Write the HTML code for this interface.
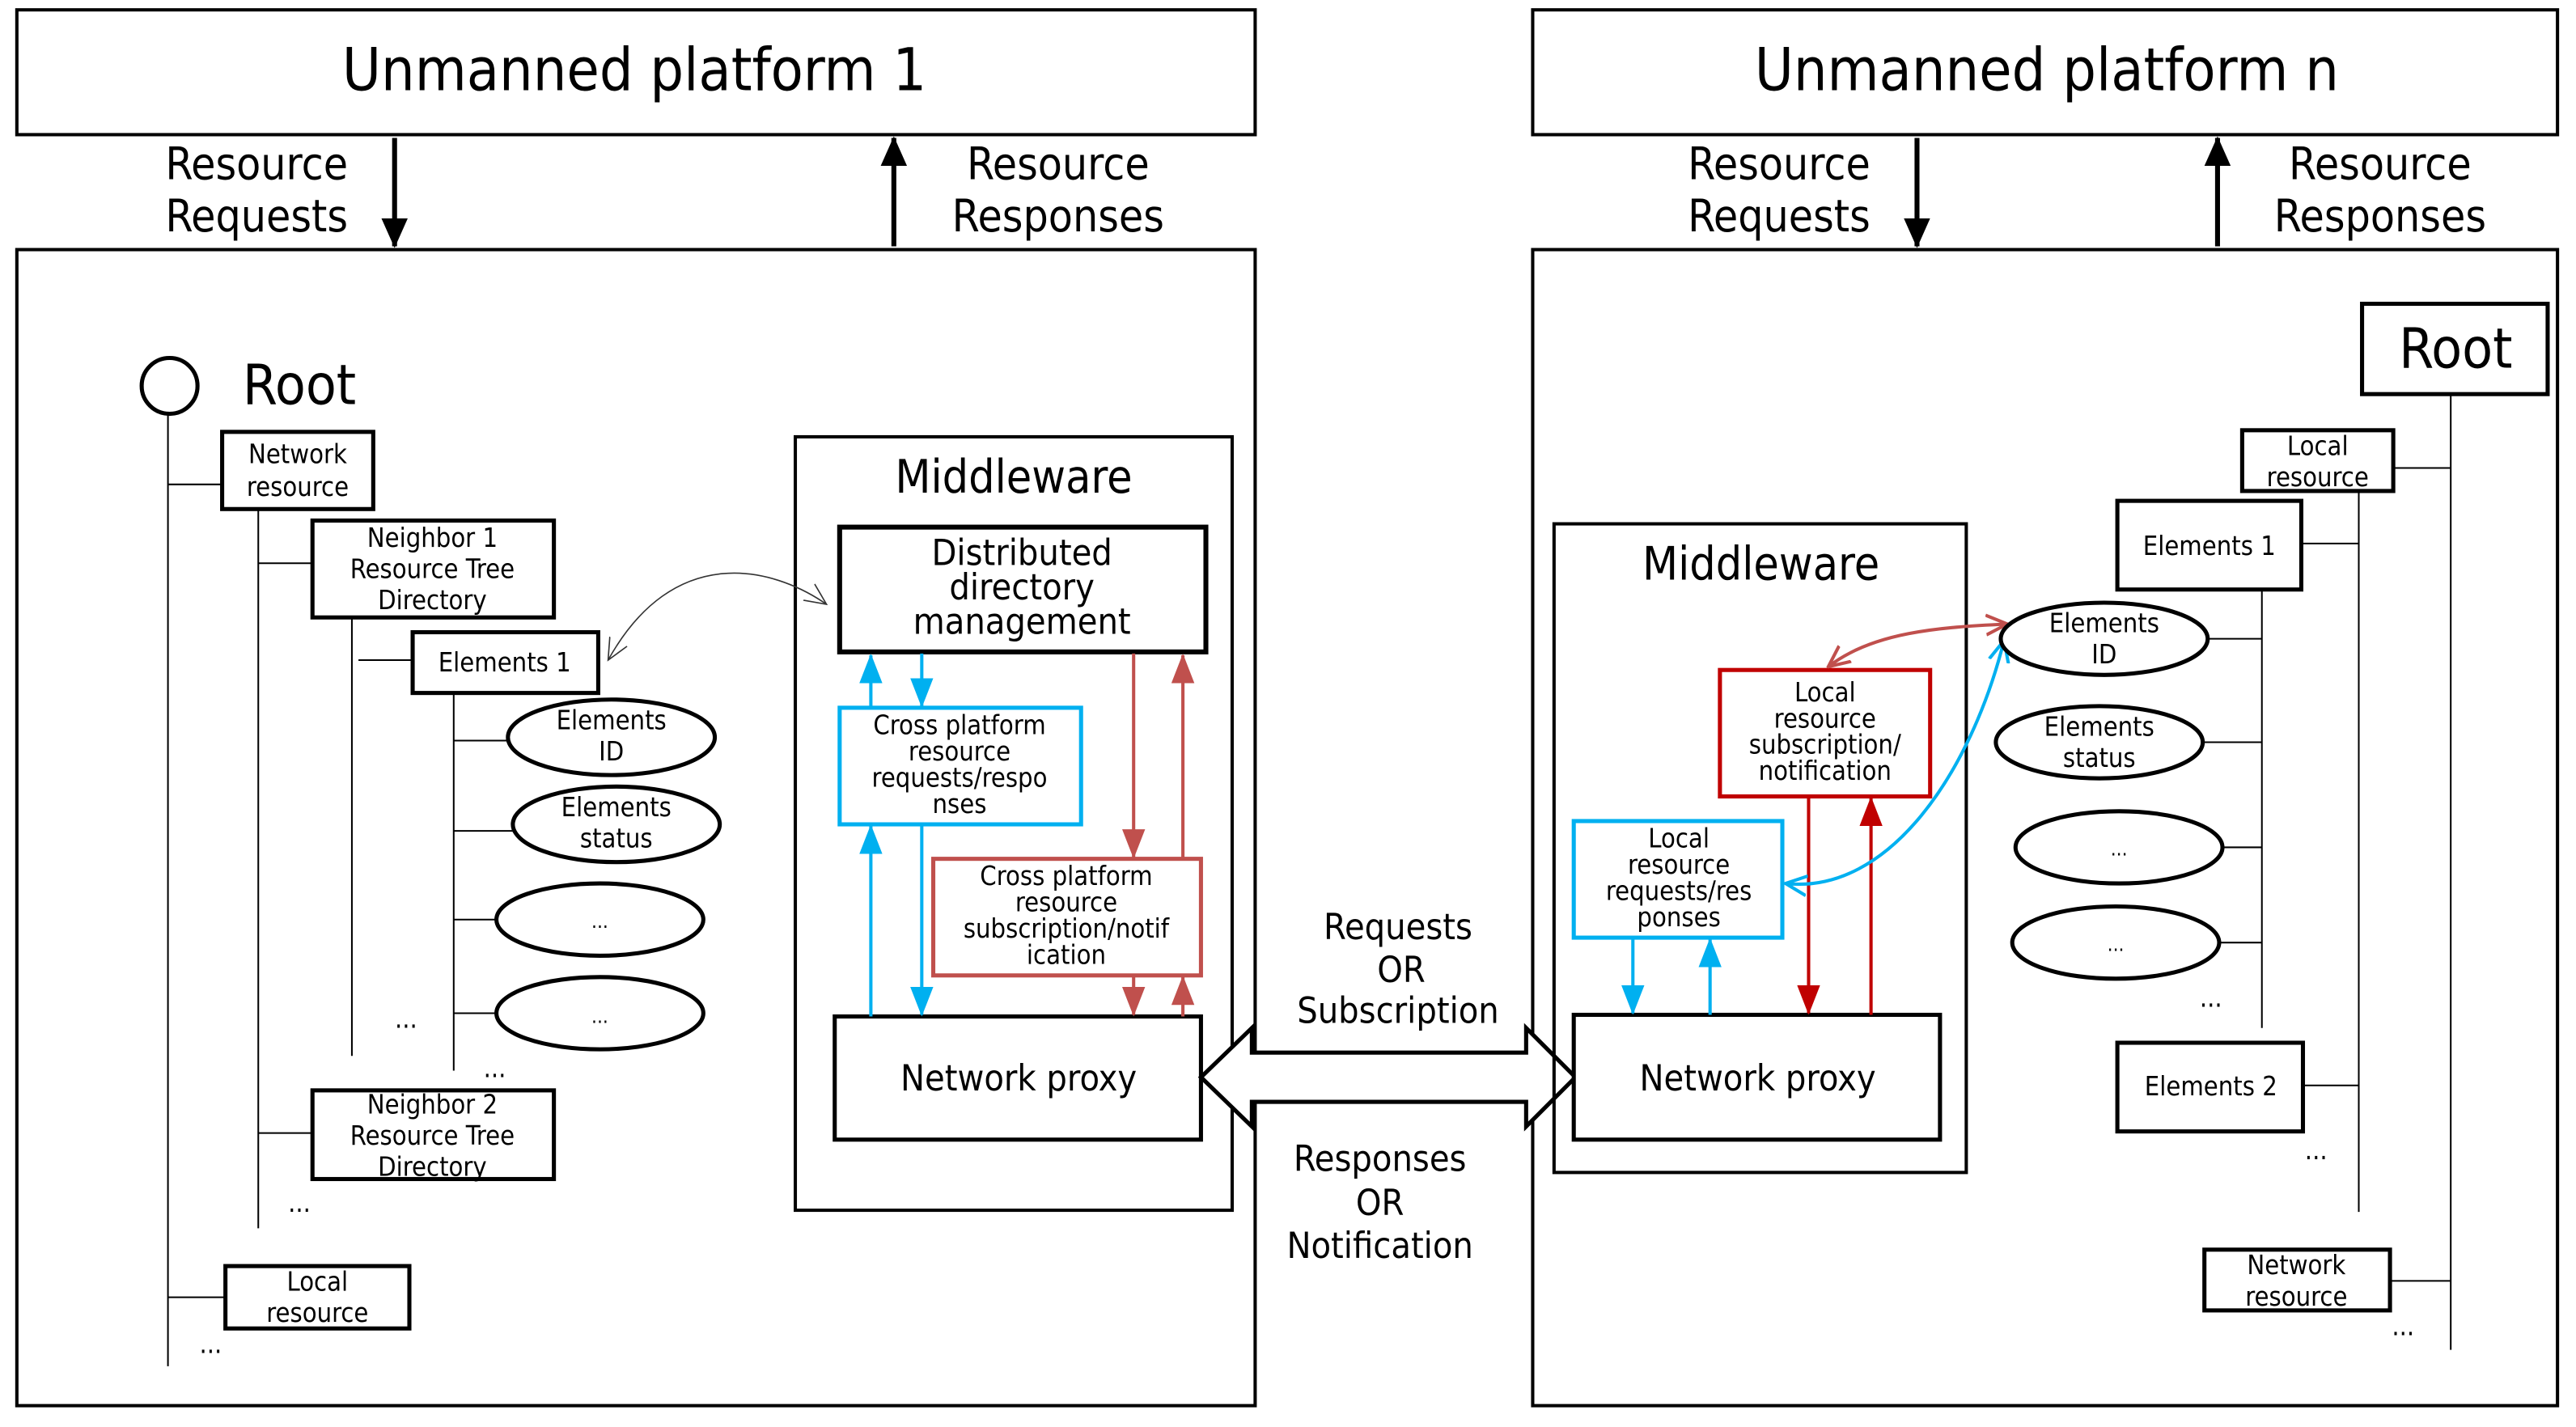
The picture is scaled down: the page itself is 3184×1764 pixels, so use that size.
<!DOCTYPE html>
<html><head><meta charset="utf-8"><style>
html,body{margin:0;padding:0;background:#fff}
svg{display:block}
text{font-family:"DejaVu Sans Condensed","Liberation Sans",sans-serif;fill:#000;text-anchor:middle}
</style></head><body>
<svg width="3184" height="1764" viewBox="0 0 1568 869" xmlns="http://www.w3.org/2000/svg">
<defs>
<marker id="ab" markerWidth="10" markerHeight="10" refX="9" refY="5" orient="auto" markerUnits="userSpaceOnUse"><path d="M0,0 L10,5 L0,10 z" fill="#000"/></marker>
<marker id="ac" markerWidth="18" markerHeight="14" refX="17" refY="7" orient="auto" markerUnits="userSpaceOnUse"><path d="M0,0 L18,7 L0,14 z" fill="#00b0f0"/></marker>
<marker id="ar" markerWidth="18" markerHeight="14" refX="17" refY="7" orient="auto" markerUnits="userSpaceOnUse"><path d="M0,0 L18,7 L0,14 z" fill="#c0504d"/></marker>
<marker id="ar2" markerWidth="18" markerHeight="14" refX="17" refY="7" orient="auto" markerUnits="userSpaceOnUse"><path d="M0,0 L18,7 L0,14 z" fill="#c00000"/></marker>
<marker id="ak" markerWidth="18" markerHeight="16" refX="17" refY="8" orient="auto" markerUnits="userSpaceOnUse"><path d="M0,0 L18,8 L0,16 z" fill="#000"/></marker>
<marker id="oc" markerWidth="14" markerHeight="14" refX="13" refY="7" orient="auto-start-reverse" markerUnits="userSpaceOnUse"><path d="M0,1 L13,7 L0,13" fill="none" stroke="#00b0f0" stroke-width="2"/></marker>
<marker id="or" markerWidth="14" markerHeight="14" refX="13" refY="7" orient="auto-start-reverse" markerUnits="userSpaceOnUse"><path d="M0,1 L13,7 L0,13" fill="none" stroke="#c0504d" stroke-width="2"/></marker>
<marker id="ot" markerWidth="14" markerHeight="14" refX="13" refY="7" orient="auto-start-reverse" markerUnits="userSpaceOnUse"><path d="M0,1 L13,7 L0,13" fill="none" stroke="#333" stroke-width="0.8"/></marker>
</defs>
<g fill="none" stroke="#000" stroke-width="2">
<rect x="10" y="6" width="754" height="76"/>
<rect x="10" y="152" width="754" height="704"/>
<rect x="933" y="6" width="624" height="76"/>
<rect x="933" y="152" width="624" height="704"/>
</g>
<g font-size="36"><text x="386" y="55">Unmanned platform 1</text><text x="1246" y="55">Unmanned platform n</text></g>
<g stroke="#000" stroke-width="3">
<line x1="240" y1="84" x2="240" y2="150" marker-end="url(#ak)"/>
<line x1="544" y1="150" x2="544" y2="84" marker-end="url(#ak)"/>
<line x1="1167" y1="84" x2="1167" y2="150" marker-end="url(#ak)"/>
<line x1="1350" y1="150" x2="1350" y2="84" marker-end="url(#ak)"/>
</g>
<g font-size="27">
<text x="156" y="109">Resource</text><text x="156" y="141">Requests</text>
<text x="644" y="109">Resource</text><text x="644" y="141">Responses</text>
<text x="1083" y="109">Resource</text><text x="1083" y="141">Requests</text>
<text x="1449" y="109">Resource</text><text x="1449" y="141">Responses</text>
</g>
<!-- left tree -->
<circle cx="103" cy="235" r="17" fill="none" stroke="#000" stroke-width="2.5"/>
<text x="182" y="246" font-size="34">Root</text>
<g stroke="#000" stroke-width="1" fill="none">
<line x1="102" y1="252" x2="102" y2="832"/><line x1="102" y1="295" x2="135" y2="295"/>
<line x1="157" y1="310" x2="157" y2="748"/><line x1="157" y1="343" x2="190" y2="343"/><line x1="157" y1="690" x2="190" y2="690"/>
<line x1="214" y1="376" x2="214" y2="643"/><line x1="218" y1="402" x2="251" y2="402"/>
<line x1="276" y1="422" x2="276" y2="652"/>
<line x1="276" y1="451" x2="309" y2="451"/><line x1="276" y1="506" x2="312" y2="506"/><line x1="276" y1="560" x2="302" y2="560"/><line x1="276" y1="617" x2="302" y2="617"/>
<line x1="102" y1="790" x2="137" y2="790"/>
</g>
<g fill="#fff" stroke="#000" stroke-width="2.5">
<rect x="135" y="263" width="92" height="47"/>
<rect x="190" y="317" width="147" height="59"/>
<rect x="251" y="385" width="113" height="37"/>
<rect x="190" y="664" width="147" height="54"/>
<rect x="137" y="771" width="112" height="38"/>
<ellipse cx="372" cy="449" rx="63" ry="23"/>
<ellipse cx="375" cy="502" rx="63" ry="23"/>
<ellipse cx="365" cy="560" rx="63" ry="22"/>
<ellipse cx="365" cy="617" rx="63" ry="22"/>
</g>
<g font-size="16">
<text x="181" y="282">Network</text><text x="181" y="302">resource</text>
<text x="263" y="333">Neighbor  1</text><text x="263" y="352">Resource Tree</text><text x="263" y="371">Directory</text>
<text x="307" y="409">Elements 1</text>
<text x="372" y="444">Elements</text><text x="372" y="463">ID</text>
<text x="375" y="497">Elements</text><text x="375" y="516">status</text>
<text x="365" y="565" font-size="12">...</text><text x="365" y="623" font-size="12">...</text>
<text x="263" y="678">Neighbor 2</text><text x="263" y="697">Resource Tree</text><text x="263" y="716">Directory</text>
<text x="193" y="786">Local</text><text x="193" y="805">resource</text>
<text x="247" y="626">...</text><text x="301" y="656">...</text><text x="182" y="738">...</text><text x="128" y="824">...</text>
</g>
<!-- left middleware -->
<rect x="484" y="266" width="266" height="471" fill="none" stroke="#000" stroke-width="2"/>
<text x="617" y="300" font-size="28">Middleware</text>
<rect x="511" y="321" width="223" height="76" fill="none" stroke="#000" stroke-width="3"/>
<g font-size="22"><text x="622" y="344">Distributed</text><text x="622" y="365">directory</text><text x="622" y="386">management</text></g>
<rect x="511" y="431" width="147" height="71" fill="none" stroke="#00b0f0" stroke-width="2.5"/>
<g font-size="16"><text x="584" y="447">Cross platform</text><text x="584" y="463">resource</text><text x="584" y="479">requests/respo</text><text x="584" y="495">nses</text></g>
<rect x="568" y="523" width="163" height="71" fill="none" stroke="#c0504d" stroke-width="2.5"/>
<g font-size="16"><text x="649" y="539">Cross platform</text><text x="649" y="555">resource</text><text x="649" y="571">subscription/notif</text><text x="649" y="587">ication</text></g>
<rect x="508" y="619" width="223" height="75" fill="#fff" stroke="#000" stroke-width="2.5"/>
<text x="620" y="664" font-size="22">Network proxy</text>
<g stroke="#00b0f0" stroke-width="2">
<line x1="530" y1="431" x2="530" y2="399" marker-end="url(#ac)"/>
<line x1="561" y1="398" x2="561" y2="430" marker-end="url(#ac)"/>
<line x1="530" y1="619" x2="530" y2="503" marker-end="url(#ac)"/>
<line x1="561" y1="502" x2="561" y2="618" marker-end="url(#ac)"/>
</g>
<g stroke="#c0504d" stroke-width="2">
<line x1="690" y1="398" x2="690" y2="522" marker-end="url(#ar)"/>
<line x1="720" y1="523" x2="720" y2="399" marker-end="url(#ar)"/>
<line x1="690" y1="594" x2="690" y2="618" marker-end="url(#ar)"/>
<line x1="720" y1="619" x2="720" y2="595" marker-end="url(#ar)"/>
</g>
<path d="M370,402 C410,330 470,345 503,368" fill="none" stroke="#333" stroke-width="0.8" marker-start="url(#ot)" marker-end="url(#ot)"/>
<!-- big double arrow -->
<path d="M731,656 L762,626 L762,641 L929,641 L929,626 L959,656 L929,686 L929,671 L762,671 L762,686 Z" fill="#fff" stroke="#000" stroke-width="2.5"/>
<g font-size="22"><text x="851" y="572">Requests</text><text x="853" y="598">OR</text><text x="851" y="623">Subscription</text>
<text x="840" y="713">Responses</text><text x="840" y="740">OR</text><text x="840" y="766">Notification</text></g>
<!-- right middleware -->
<rect x="946" y="319" width="251" height="395" fill="none" stroke="#000" stroke-width="2"/>
<text x="1072" y="353" font-size="28">Middleware</text>
<rect x="1047" y="408" width="128" height="77" fill="none" stroke="#c00000" stroke-width="2.5"/>
<g font-size="16"><text x="1111" y="427">Local</text><text x="1111" y="443">resource</text><text x="1111" y="459">subscription/</text><text x="1111" y="475">notification</text></g>
<rect x="958" y="500" width="127" height="71" fill="none" stroke="#00b0f0" stroke-width="2.5"/>
<g font-size="16"><text x="1022" y="516">Local</text><text x="1022" y="532">resource</text><text x="1022" y="548">requests/res</text><text x="1022" y="564">ponses</text></g>
<rect x="958" y="618" width="223" height="76" fill="#fff" stroke="#000" stroke-width="2.5"/>
<text x="1070" y="664" font-size="22">Network proxy</text>
<g stroke-width="2">
<line x1="994" y1="571" x2="994" y2="617" stroke="#00b0f0" marker-end="url(#ac)"/>
<line x1="1041" y1="618" x2="1041" y2="572" stroke="#00b0f0" marker-end="url(#ac)"/>
<line x1="1101" y1="485" x2="1101" y2="617" stroke="#c00000" marker-end="url(#ar2)"/>
<line x1="1139" y1="618" x2="1139" y2="486" stroke="#c00000" marker-end="url(#ar2)"/>
</g>
<path d="M1113,406 C1140,385 1180,382 1222,380" fill="none" stroke="#c0504d" stroke-width="2" marker-start="url(#or)" marker-end="url(#or)"/>
<path d="M1087,538 C1150,545 1200,470 1220,390" fill="none" stroke="#00b0f0" stroke-width="2" marker-start="url(#oc)" marker-end="url(#oc)"/>
<!-- right tree -->
<g stroke="#000" stroke-width="1">
<line x1="1492" y1="240" x2="1492" y2="822"/><line x1="1457" y1="285" x2="1492" y2="285"/><line x1="1455" y1="780" x2="1492" y2="780"/>
<line x1="1436" y1="299" x2="1436" y2="738"/><line x1="1401" y1="331" x2="1436" y2="331"/><line x1="1402" y1="661" x2="1436" y2="661"/>
<line x1="1377" y1="359" x2="1377" y2="626"/>
<line x1="1344" y1="389" x2="1377" y2="389"/><line x1="1341" y1="452" x2="1377" y2="452"/><line x1="1353" y1="516" x2="1377" y2="516"/><line x1="1351" y1="574" x2="1377" y2="574"/>
</g>
<g fill="#fff" stroke="#000" stroke-width="2.5">
<rect x="1438" y="185" width="113" height="55"/>
<rect x="1365" y="262" width="92" height="37"/>
<rect x="1289" y="305" width="112" height="54"/>
<rect x="1289" y="635" width="113" height="54"/>
<rect x="1342" y="761" width="113" height="37"/>
<ellipse cx="1281" cy="389" rx="63" ry="22"/>
<ellipse cx="1278" cy="452" rx="63" ry="22"/>
<ellipse cx="1290" cy="516" rx="63" ry="22"/>
<ellipse cx="1288" cy="574" rx="63" ry="22"/>
</g>
<text x="1495" y="224" font-size="34">Root</text>
<g font-size="16">
<text x="1411" y="277">Local</text><text x="1411" y="296">resource</text>
<text x="1345" y="338">Elements 1</text>
<text x="1281" y="385">Elements</text><text x="1281" y="404">ID</text>
<text x="1278" y="448">Elements</text><text x="1278" y="467">status</text>
<text x="1290" y="521" font-size="12">...</text><text x="1288" y="579" font-size="12">...</text>
<text x="1346" y="667">Elements 2</text>
<text x="1398" y="776">Network</text><text x="1398" y="795">resource</text>
<text x="1346" y="613">...</text><text x="1410" y="706">...</text><text x="1463" y="813">...</text>
</g>
</svg>
</body></html>
